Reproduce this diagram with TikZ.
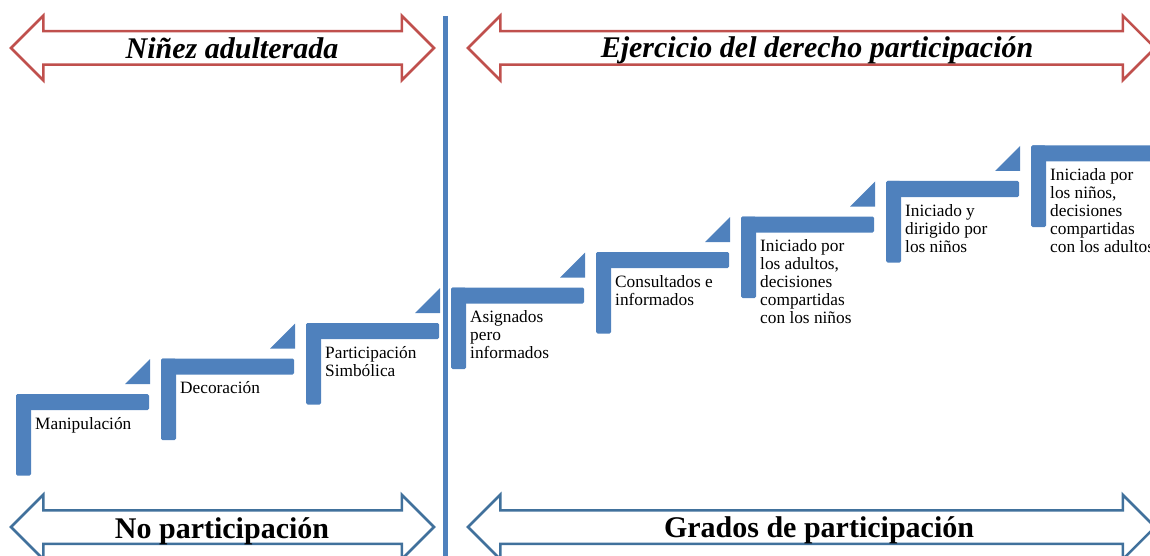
\documentclass[tikz,border=0pt]{standalone}
\usepackage{fontspec}
\setmainfont{Liberation Serif}
\usetikzlibrary{shapes.arrows}
\definecolor{stepblue}{HTML}{4F81BD}
\definecolor{arrowred}{HTML}{C0504D}
\definecolor{arrowblue}{HTML}{41719C}

\begin{document}
\begin{tikzpicture}[x=1pt,y=-1pt,
		bigarrow/.style={double arrow,draw=#1,line width=2.5pt,fill=white,minimum width=62pt,double arrow head extend=15.5pt,inner xsep=0pt,inner ysep=15.5pt},
		headtext/.style={font=\fontsize{30}{32}\selectfont\bfseries,anchor=base},
		steptext/.style={font=\fontsize{17.3}{18}\selectfont,align=left,anchor=north west,inner sep=0pt}]
		\useasboundingbox (0,0) rectangle (1150,556);
		\clip (0,0) rectangle (1150,556);
		\node[bigarrow=arrowred,minimum height=423pt] (nino) at (222.5,48) {};
		\node[bigarrow=arrowred,minimum height=687pt] (ejer) at (811.5,48) {};
		\node[bigarrow=arrowblue,minimum height=423pt] (nopart) at (222.5,527) {};
		\node[bigarrow=arrowblue,minimum height=687pt] (grados) at (811.5,527) {};
		\node[headtext] (ninotxt) at (232,59) {\itshape Niñez adulterada};
		\node[headtext] (ejertxt) at (817,58) {\itshape Ejercicio del derecho participación};
		\node[headtext] (noparttxt) at (222,538) {No participación};
		\node[headtext] (gradostxt) at (819,537) {Grados de participación};
		\coordinate (divtop) at (445.5,16);
		\coordinate (divbot) at (445.5,556);
		\draw[stepblue,line width=4.5pt] (divtop) -- (divbot);
		\foreach \txt [count=\i from 0] in {Manipulación,Decoración,{Participación\\Simbólica},{Asignados\\pero\\informados},{Consultados e\\informados},{Iniciado por\\los adultos,\\decisiones\\compartidas\\con los niños},{Iniciado y\\dirigido por\\los niños},{Iniciada por\\los niños,\\decisiones\\compartidas\\con los adultos}}
		{
			\pgfmathsetmacro\sx{16+145*\i}
			\pgfmathsetmacro\sy{394-35.5*\i}
			\fill[stepblue,rounded corners=1.5pt] (\sx,\sy) rectangle ++(133,16);
			\fill[stepblue,rounded corners=1.5pt] (\sx,\sy) rectangle ++(15,81.5);
			\ifnum\i<7 \fill[stepblue] (\sx+109,\sy-10) -- ++(25,0) -- ++(0,-25) -- cycle; \fi
			\node[steptext] (step\i) at (\sx+19,\sy+23) {\txt};
		}
	\end{tikzpicture}
\end{document}
